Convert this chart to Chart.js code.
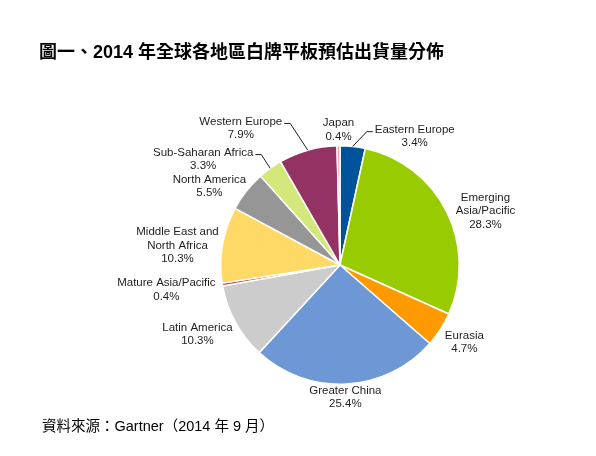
<!DOCTYPE html>
<html>
<head>
<meta charset="utf-8">
<script src="https://cdn.jsdelivr.net/npm/chart.js@4.4.1/dist/chart.umd.min.js"></script>
<style>
  html, body { margin: 0; padding: 0; background: #ffffff; }
  #wrap { position: relative; width: 596px; height: 456px; overflow: hidden; }
  #c { position: absolute; left: 0; top: 0; }
  #title { position: absolute; left: 39px; top: 42px; font-family: "Liberation Sans", "Noto Sans CJK TC", sans-serif; font-weight: bold; font-size: 18px; line-height: 20px; letter-spacing: 0px; color: #000; white-space: nowrap; }
  #source { position: absolute; left: 42px; top: 417px; font-family: "Liberation Sans", "Noto Sans CJK TC", sans-serif; font-size: 14.5px; line-height: 18px; color: #000; white-space: nowrap; }
</style>
</head>
<body>
<div id="wrap">
  <canvas id="c" width="596" height="456"></canvas>
  <div id="title">圖一、2014 年全球各地區白牌平板預估出貨量分佈</div>
  <div id="source">資料來源：Gartner（2014 年 9 月）</div>
</div>
<script>
// ---- data ----
const regions = ["Eastern Europe", "Emerging Asia/Pacific", "Eurasia", "Greater China", "Latin America", "Mature Asia/Pacific", "Middle East and North Africa", "North America", "Sub-Saharan Africa", "Western Europe", "Japan"];
const shares = [3.4, 28.3, 4.7, 25.4, 10.3, 0.4, 10.3, 5.5, 3.3, 7.9, 0.4];
const labelLines = [
  ["Eastern Europe"],
  ["Emerging", "Asia/Pacific"],
  ["Eurasia"],
  ["Greater China"],
  ["Latin America"],
  ["Mature Asia/Pacific"],
  ["Middle East and", "North Africa"],
  ["North America"],
  ["Sub-Saharan Africa"],
  ["Western Europe"],
  ["Japan"]
];

// ---- styles / layout ----
const sliceColors = ["#00529B", "#99CC00", "#FF9900", "#6E97D6", "#CCCCCC", "#C0504D", "#FFD966", "#969696", "#D4E77A", "#943264", "#F4A0A8"];
// label block offsets relative to the slice's outer edge point at its mid angle
const labelOffsets = [[62, -10], [39, 0], [24, 13], [-1, 13], [-38, 12], [-56, 5], [-45, 1], [-37, -5], [-67, -9], [-67, -22], [0, -16]];
// leader: 0 none, 1 attaches to right end of text, -1 attaches to left end
const leaderSide = [-1, 0, 0, 0, 0, 0, 0, 0, 1, 1, 0];

const labelFont = '11.5px "Liberation Sans", Arial, sans-serif';
const lineH = 13.5;

const labelPlugin = {
  id: 'sliceLabels',
  afterDraw(chart) {
    const ctx = chart.ctx;
    const meta = chart.getDatasetMeta(0);
    ctx.save();
    ctx.font = labelFont;
    ctx.fillStyle = '#1e1e1e';
    ctx.textAlign = 'center';
    ctx.textBaseline = 'middle';
    meta.data.forEach((arc, i) => {
      const a = (arc.startAngle + arc.endAngle) / 2;
      const R = arc.outerRadius;
      const ex = arc.x + R * Math.cos(a);
      const ey = arc.y + R * Math.sin(a);
      const lines = labelLines[i].concat([shares[i].toFixed(1) + '%']);
      const cx = ex + labelOffsets[i][0];
      const cy = ey + labelOffsets[i][1];
      const top = cy - (lines.length - 1) * lineH / 2;
      lines.forEach((t, k) => ctx.fillText(t, cx, top + k * lineH));
      if (leaderSide[i] !== 0) {
        const w = ctx.measureText(labelLines[i][0]).width;
        const s = leaderSide[i];
        const tx = cx + s * (w / 2 + 2);
        const ly = top + 2;
        const elx = tx + s * 6;
        ctx.beginPath();
        ctx.strokeStyle = '#1e1e1e';
        ctx.lineWidth = 1;
        ctx.moveTo(tx, ly);
        ctx.lineTo(elx, ly);
        ctx.lineTo(ex, ey);
        ctx.stroke();
      }
    });
    ctx.restore();
  }
};

new Chart(document.getElementById('c'), {
  type: 'pie',
  data: {
    labels: regions,
    datasets: [{
      data: shares,
      backgroundColor: sliceColors,
      borderColor: '#ffffff',
      borderWidth: 1.5
    }]
  },
  options: {
    responsive: false,
    animation: false,
    layout: { padding: { left: 220, right: 136, top: 145, bottom: 71 } },
    plugins: { legend: { display: false }, tooltip: { enabled: false }, title: { display: false } }
  },
  plugins: [labelPlugin]
});
</script>
</body>
</html>
